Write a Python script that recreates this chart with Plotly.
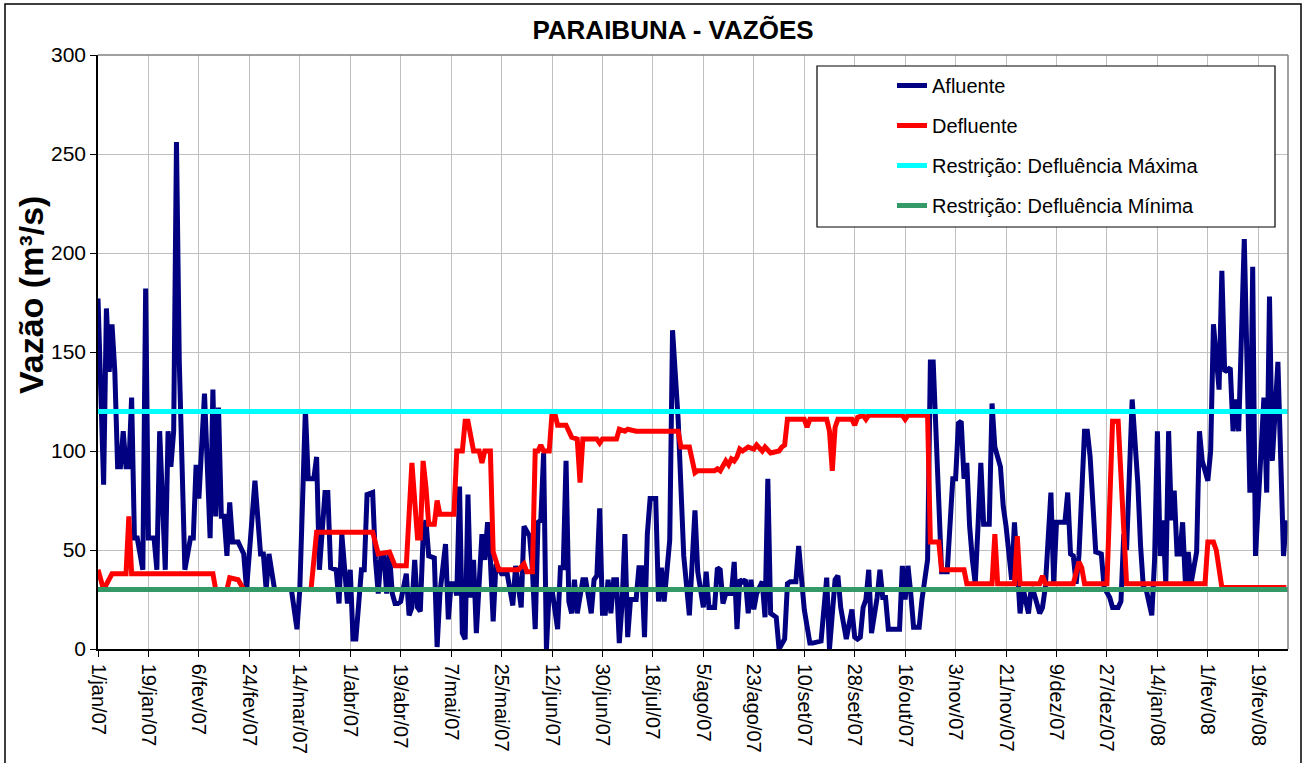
import pandas as pd
import plotly.graph_objects as go

# ---------------- data ----------------
start_date = "2007-01-01"

afl_days = [0, 2, 3, 4, 5, 6, 7, 8, 9, 10, 11, 12, 13, 14, 16, 17, 18, 20, 21, 22, 24, 25, 26, 27, 28, 29, 31, 33, 34, 35,
            36, 38, 40, 41, 42, 43, 44, 45, 46, 47, 48, 50, 51, 52, 53, 56, 58, 59, 60, 61, 63, 69, 71, 72, 74, 75, 77, 78, 79,
            81, 82, 83, 85, 86, 87, 88, 89, 90, 91, 92, 93, 94, 95, 96, 98, 99, 100, 101, 102, 103, 104, 105, 106,
            107, 108, 110, 111, 112, 113, 114, 115, 116, 117, 118, 120, 121, 122, 124, 125, 126, 127, 128, 129, 130,
            131, 132, 133, 134, 135, 136, 137, 138, 139, 140, 141, 142, 144, 146, 148, 149, 150, 151, 152, 154, 155,
            156, 157, 158, 159, 160, 161, 162, 164, 165, 166, 167, 168, 169, 170, 171, 173, 174, 176, 177, 178, 179,
            180, 181, 182, 183, 184, 185, 186, 187, 188, 189, 190, 192, 193, 194, 195, 196, 197, 199, 200, 201, 202,
            204, 205, 207, 209, 210, 211, 213, 214, 216, 217, 218, 220, 221, 222, 223, 224, 226, 227, 228, 229, 230,
            231, 232, 233, 234, 235, 237, 238, 239, 240, 242, 243, 245, 246, 247, 249, 250, 251, 252, 254, 255, 258,
            259, 260, 261, 263, 264, 265, 267, 269, 270, 271, 272, 273, 274, 275, 276, 278, 279, 280, 281, 282, 286,
            287, 288, 289, 290, 291, 293, 294, 296, 297, 298, 299, 301, 303, 305, 306, 307, 308, 309, 310, 311, 312,
            313, 314, 315, 316, 318, 319, 320, 322, 323, 324, 325, 326, 327, 328, 329, 330, 332, 333, 334, 336, 337,
            338, 340, 341, 342, 345, 346, 347, 348, 349, 350, 352, 353, 354, 356, 358, 359, 361, 362, 364, 365, 366,
            367, 369, 370, 371, 372, 373, 374, 376, 377, 378, 379, 380, 381, 382, 383, 384, 385, 386, 387, 388, 389,
            390, 392, 393, 394, 396, 397, 398, 400, 401, 402, 404, 405, 406, 407, 409, 411, 412, 413, 415, 416, 417,
            418, 419, 421, 423, 424]
afl_vals = [177, 83, 172, 140, 164, 140, 92, 92, 110, 92, 92, 127, 56, 56, 40, 182, 56, 56, 40, 110, 40, 110, 92, 110, 256, 145, 40, 56, 56, 93,
            76, 129, 56, 131, 67, 122, 67, 67, 47, 74, 54, 54, 51, 48, 30, 85, 48, 48, 30, 48, 30, 30, 10, 30, 121, 86, 86, 97, 40,
            79, 79, 41, 40, 23, 58, 39, 23, 40, 5, 5, 23, 40, 40, 78, 79, 45, 28, 48, 48, 28, 48, 28, 23,
            23, 24, 38, 17, 21, 45, 21, 19, 57, 65, 47, 46, 1, 28, 53, 15, 33, 33, 27, 82, 8,
            5, 78, 26, 45, 8, 33, 58, 45, 64, 45, 14, 43, 38, 38, 22, 42, 31, 21, 62, 57, 40,
            10, 64, 65, 99, 0, 30, 30, 10, 41, 41, 95, 24, 18, 35, 18, 35, 35, 18, 35, 37, 71,
            18, 18, 35, 18, 35, 35, 3, 23, 58, 6, 25, 25, 41, 41, 6, 58, 76, 76, 24, 41, 24,
            55, 161, 116, 47, 28, 17, 70, 39, 21, 39, 21, 21, 41, 40, 23, 28, 28, 44, 10, 35, 34,
            35, 18, 35, 20, 28, 34, 16, 86, 18, 16, 0, 5, 33, 34, 34, 52, 35, 20, 3, 3, 4,
            18, 36, 0, 35, 37, 21, 5, 20, 6, 5, 6, 21, 25, 40, 8, 26, 40, 26, 26, 10, 10,
            42, 25, 42, 28, 11, 11, 25, 45, 145, 145, 112, 39, 39, 86, 86, 114, 115, 86, 94, 62, 45,
            33, 62, 94, 63, 63, 124, 102, 92, 72, 62, 50, 35, 64, 40, 18, 31, 18, 31, 28, 18, 21,
            31, 79, 33, 64, 64, 79, 48, 47, 33, 47, 110, 110, 97, 49, 48, 31, 26, 21, 21, 24, 58,
            50, 126, 105, 84, 52, 31, 30, 17, 45, 110, 47, 65, 33, 110, 65, 80, 48, 48, 64, 33, 49,
            33, 49, 110, 95, 85, 100, 164, 131, 191, 140, 142, 110, 126, 110, 207, 79, 193, 47, 100, 127, 79,
            178, 95, 145, 47, 65]

def_days = [0, 2, 5, 10, 11, 12, 41, 42, 46, 47, 50, 52, 76, 78, 98, 100, 104, 105, 106, 110, 112, 114, 115, 116, 117,
            118, 120, 121, 122, 127, 128, 130, 131, 132, 134, 136, 137, 138, 140, 141, 143, 150, 152, 153, 155, 156,
            157, 158, 159, 161, 162, 163, 164, 167, 169, 171, 172, 173, 178, 179, 180, 185, 186, 188, 189, 192, 207,
            208, 211, 213, 214, 220, 221, 222, 223, 224, 225, 226, 227, 228, 229, 230, 231, 232, 234, 235, 237, 238,
            240, 243, 244, 245, 246, 252, 253, 254, 260, 261, 262, 263, 264, 269, 270, 271, 273, 274, 275, 287, 288,
            289, 296, 297, 300, 301, 309, 310, 319, 320, 321, 327, 328, 329, 336, 337, 338, 348, 350, 351, 352, 360,
            362, 364, 367, 395, 396, 398, 399, 401, 424]
def_vals = [40, 30, 38, 38, 67, 38, 38, 30, 30, 36, 35, 30, 30, 59, 59, 48, 49, 45, 42, 42, 94, 56, 56, 95, 82,
            63, 63, 75, 68, 68, 100, 100, 115, 115, 100, 100, 94, 100, 100, 49, 40, 40, 43, 39, 39, 100,
            100, 103, 100, 100, 119, 119, 113, 113, 107, 106, 84, 106, 106, 104, 106, 106, 111, 110, 111, 110, 110,
            102, 102, 89, 90, 90, 91, 90, 93, 95, 93, 96, 95, 97, 101, 100, 101, 102, 101, 103, 100, 102,
            99, 100, 102, 103, 116, 116, 112, 116, 116, 110, 90, 112, 116, 116, 113, 117, 118, 116, 118, 118, 116,
            118, 118, 54, 54, 40, 40, 33, 33, 58, 33, 33, 57, 33, 33, 37, 33, 33, 44, 41, 33, 33,
            115, 115, 33, 33, 54, 54, 50, 31, 31]

restr_max = 120
restr_min = 30
axis_end_day = 424.6

tick_dates = ["2007-01-01", "2007-01-19", "2007-02-06", "2007-02-24", "2007-03-14", "2007-04-01",
              "2007-04-19", "2007-05-07", "2007-05-25", "2007-06-12", "2007-06-30", "2007-07-18",
              "2007-08-05", "2007-08-23", "2007-09-10", "2007-09-28", "2007-10-16", "2007-11-03",
              "2007-11-21", "2007-12-09", "2007-12-27", "2008-01-14", "2008-02-01", "2008-02-19"]
tick_labels = ["1/jan/07", "19/jan/07", "6/fev/07", "24/fev/07", "14/mar/07", "1/abr/07",
               "19/abr/07", "7/mai/07", "25/mai/07", "12/jun/07", "30/jun/07", "18/jul/07",
               "5/ago/07", "23/ago/07", "10/set/07", "28/set/07", "16/out/07", "3/nov/07",
               "21/nov/07", "9/dez/07", "27/dez/07", "14/jan/08", "1/fev/08", "19/fev/08"]

# ---------------- build ----------------
base = pd.Timestamp(start_date)
afl_x = base + pd.to_timedelta(afl_days, unit="D")
def_x = base + pd.to_timedelta(def_days, unit="D")
x_end = base + pd.to_timedelta(axis_end_day, unit="D")
restr_x = [base, x_end]

FONT = "Arial, Liberation Sans, sans-serif"
LW = 5

fig = go.Figure()
fig.add_trace(go.Scatter(x=afl_x, y=afl_vals, mode="lines", name="Afluente",
                         line=dict(color="#000080", width=LW), legendgroup="a"))
fig.add_trace(go.Scatter(x=def_x, y=def_vals, mode="lines", name="Defluente",
                         line=dict(color="#FF0000", width=LW), legendgroup="b"))
fig.add_trace(go.Scatter(x=restr_x, y=[restr_max, restr_max], mode="lines",
                         name="Restrição: Defluência Máxima",
                         line=dict(color="#00FFFF", width=LW), legendgroup="c"))
fig.add_trace(go.Scatter(x=restr_x, y=[restr_min, restr_min], mode="lines",
                         name="Restrição: Defluência Mínima",
                         line=dict(color="#339966", width=LW), legendgroup="d"))

L, R, T, B = 98, 22, 55, 114
W, H = 1310, 763
pw, ph = W - L - R, H - T - B

def px2paper_x(px):
    return (px - L) / pw

def px2paper_y(py):
    return (H - B - py) / ph

fig.update_layout(
    width=W, height=H,
    margin=dict(l=L, r=R, t=T, b=B, autoexpand=False),
    paper_bgcolor="white", plot_bgcolor="white",
    font=dict(family=FONT, color="black", size=20),
    title=dict(text="<b>PARAIBUNA - VAZÕES</b>", x=673 / W, xanchor="center",
               y=1 - 30 / H, yanchor="middle", font=dict(size=26, family=FONT)),
    showlegend=True,
    legend=dict(x=px2paper_x(892), xanchor="left", y=px2paper_y(66), yanchor="top",
                bgcolor="rgba(0,0,0,0)", borderwidth=0, tracegroupgap=11,
                font=dict(size=20, family=FONT)),
    xaxis=dict(type="date", range=[base, x_end], tickmode="array", automargin=False,
               tickvals=pd.to_datetime(tick_dates), ticktext=tick_labels, tickangle=90,
               tickfont=dict(size=20), ticks="outside", ticklen=6, tickcolor="black",
               ticklabelstandoff=3,
               showgrid=True, gridcolor="#C0C0C0", gridwidth=1,
               showline=True, linecolor="black", linewidth=1.5, zeroline=False),
    yaxis=dict(range=[0, 300], tickmode="linear", tick0=0, dtick=50, automargin=False,
               tickfont=dict(size=21), ticks="outside", ticklen=6, tickcolor="black",
               showgrid=True, gridcolor="#C0C0C0", gridwidth=1,
               showline=True, linecolor="black", linewidth=1.5, zeroline=False),
    annotations=[dict(text="<b>Vazão (m³/s)</b>", textangle=-90, x=px2paper_x(31), y=px2paper_y(295),
                      xref="paper", yref="paper", showarrow=False, font=dict(size=34, family=FONT),
                      xanchor="center", yanchor="middle")],
    shapes=[
        # plot-area frame (top and right in gray)
        dict(type="line", xref="paper", yref="paper", x0=0, x1=1, y0=1, y1=1,
             line=dict(color="#808080", width=1.5)),
        dict(type="line", xref="paper", yref="paper", x0=1, x1=1, y0=0, y1=1,
             line=dict(color="#808080", width=1.5)),
        # legend box
        dict(type="rect", xref="paper", yref="paper",
             x0=px2paper_x(817), x1=px2paper_x(1275), y0=px2paper_y(227), y1=px2paper_y(66),
             line=dict(color="black", width=1.2), fillcolor="white", layer="above"),
        # chart-area border
        dict(type="rect", xref="paper", yref="paper",
             x0=px2paper_x(5), x1=px2paper_x(1301), y0=px2paper_y(775), y1=px2paper_y(4),
             line=dict(color="black", width=1.5), fillcolor="rgba(0,0,0,0)"),
    ],
)

fig.write_html("out.html", config={"displayModeBar": False},
               post_script="document.body.style.margin='0';")
